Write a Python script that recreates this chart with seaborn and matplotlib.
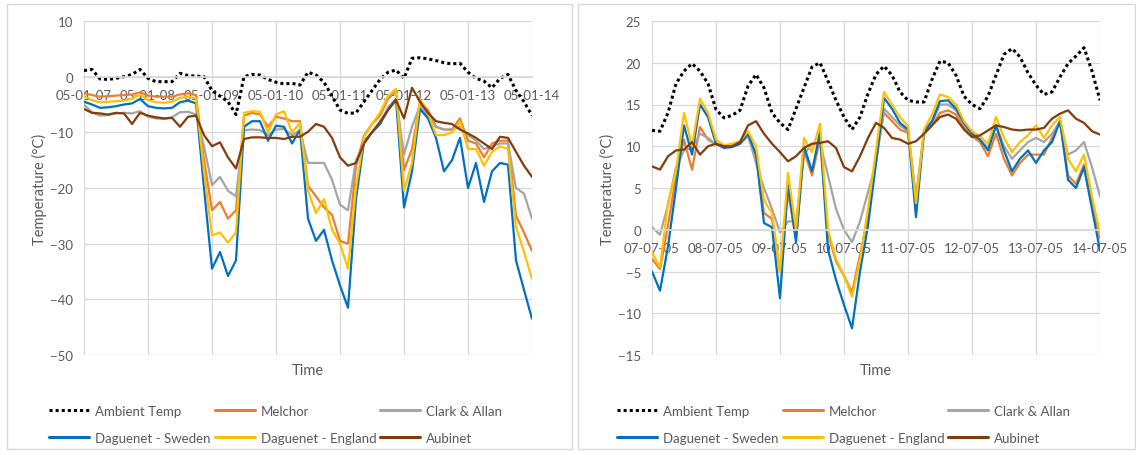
import pandas as pd
import seaborn as sns
import matplotlib.pyplot as plt
import matplotlib.dates as mdates
from matplotlib.lines import Line2D
from matplotlib.patches import Rectangle

# ---- data: temperatures every 3 hours over one week ----
jan_start, jan_end = "2005-01-07", "2005-01-14"
jul_start, jul_end = "2005-07-07", "2005-07-14"

jan_ambient = [1.1, 1.3, -0.4, -0.5, -0.3, 0.0, 0.4, 1.3, -0.3, -0.9, -0.9, -0.9, 0.6, 0.2, 0.1,
               0.0, -2.5, -3.5, -4.5, -6.8, 0.0, 0.4, 0.3, -0.5, -1.0, -1.3, -1.2, -1.5, 0.8, 0.3,
               -1.0, -3.5, -6.0, -6.6, -6.5, -4.5, -2.5, -0.5, 0.8, 1.2, -0.3, 3.3, 3.4, 3.2, 2.9,
               2.5, 2.3, 2.4, 0.8, -0.3, -0.8, -2.0, -0.3, 0.4, -2.5, -4.5, -7.0]
jan_melchor = [-3.0, -3.3, -3.6, -3.5, -3.4, -3.3, -3.2, -2.8, -3.4, -3.6, -3.6, -3.6, -3.2, -3.0,
               -3.3, -15.0, -24.0, -22.5, -25.5, -24.0, -7.0, -6.5, -6.8, -9.0, -7.2, -7.5, -8.0,
               -8.0, -19.6, -21.5, -23.5, -24.8, -29.5, -30.0, -16.0, -10.6, -8.5, -7.0, -4.0,
               -2.5, -16.8, -13.0, -4.5, -6.0, -9.0, -9.5, -9.5, -7.5, -11.5, -12.0, -14.5,
               -12.0, -11.5, -11.5, -25.0, -28.0, -31.3]
jan_clark = [-5.0, -6.4, -7.0, -6.9, -6.6, -6.5, -6.6, -6.2, -7.2, -7.5, -7.6, -7.3, -6.4, -6.3,
             -6.8, -12.5, -19.5, -18.0, -20.5, -21.5, -9.6, -9.5, -9.6, -10.5, -9.5, -9.4, -10.5,
             -9.7, -15.5, -15.5, -15.5, -18.5, -23.0, -24.0, -15.0, -12.0, -10.0, -8.5, -5.5,
             -4.0, -14.0, -9.0, -5.2, -7.0, -9.0, -9.5, -9.5, -9.0, -10.5, -11.5, -13.0, -12.5,
             -12.0, -12.0, -20.0, -21.0, -25.5]
jan_sweden = [-4.5, -5.0, -5.6, -5.5, -5.3, -5.0, -4.8, -4.0, -5.3, -5.6, -5.7, -5.6, -4.6, -4.3,
              -4.8, -20.0, -34.5, -31.5, -35.8, -33.0, -9.0, -8.0, -8.0, -11.5, -8.8, -9.0, -12.0,
              -9.5, -25.5, -29.5, -27.5, -33.0, -37.5, -41.5, -22.0, -11.7, -10.0, -8.5, -6.0,
              -4.0, -23.5, -17.0, -5.8, -7.5, -11.0, -17.0, -15.0, -11.0, -20.0, -15.5, -22.5,
              -17.0, -15.5, -15.8, -33.0, -38.3, -43.5]
jan_england = [-3.5, -4.2, -4.6, -4.5, -4.4, -4.3, -4.0, -3.2, -4.2, -4.6, -4.7, -4.5, -3.8, -3.6,
               -3.9, -17.0, -28.5, -28.0, -29.8, -28.0, -6.5, -6.2, -6.3, -10.0, -6.8, -6.2,
               -10.0, -8.3, -20.5, -24.5, -22.0, -27.5, -30.0, -34.5, -20.0, -10.8, -8.5, -6.5,
               -3.5, -2.2, -20.5, -15.5, -4.0, -6.5, -10.5, -10.5, -10.0, -8.0, -13.0, -13.0,
               -16.0, -13.5, -12.5, -13.0, -27.0, -31.5, -36.3]
jan_aubinet = [-5.8, -6.5, -6.6, -6.8, -6.5, -6.6, -8.5, -6.5, -7.0, -7.3, -7.5, -7.4, -9.0, -7.2,
               -7.0, -10.5, -12.5, -11.8, -14.5, -16.5, -11.2, -10.9, -10.9, -11.0, -11.0, -11.2,
               -10.8, -10.8, -9.9, -8.5, -9.0, -11.0, -14.5, -16.0, -15.5, -12.0, -10.0, -8.1,
               -6.0, -4.2, -7.5, -2.0, -4.5, -6.5, -8.0, -8.3, -8.5, -9.5, -10.2, -11.0, -12.0,
               -13.0, -10.8, -11.0, -13.5, -16.0, -18.0]

jul_ambient = [11.9, 11.8, 14.0, 17.5, 19.0, 19.9, 19.0, 17.5, 14.4, 13.4, 13.7, 14.3, 17.2, 18.6,
               17.0, 14.0, 12.8, 12.0, 14.5, 17.0, 19.5, 20.0, 17.8, 15.5, 13.5, 12.0, 13.5, 16.3,
               18.6, 19.6, 18.5, 16.5, 15.5, 15.3, 15.3, 18.0, 20.2, 20.0, 18.5, 16.0, 15.0, 14.5,
               16.0, 18.5, 21.0, 21.7, 20.7, 18.8, 17.3, 16.2, 16.5, 18.3, 19.9, 20.8, 21.8, 19.0,
               15.5]
jul_melchor = [-3.5, -4.7, 0.5, 6.5, 10.8, 7.2, 12.3, 10.8, 10.2, 9.9, 10.0, 10.3, 11.2, 9.0, 2.0,
               1.3, -5.0, 4.5, -1.0, 9.5, 6.5, 10.8, -0.5, -3.8, -5.5, -7.5, -3.0, 1.5, 8.5, 14.0,
               13.0, 12.0, 11.6, 3.5, 11.5, 12.5, 14.0, 14.3, 13.8, 12.3, 11.2, 10.5, 8.8, 11.5,
               8.5, 6.5, 8.0, 9.0, 9.0, 9.0, 11.0, 13.0, 6.5, 5.5, 7.8, 3.0, -1.0]
jul_clark = [0.3, -0.6, 3.0, 7.5, 9.5, 9.8, 11.5, 11.0, 10.2, 10.0, 10.1, 10.4, 11.3, 8.0, 5.0,
             2.5, -0.3, 1.0, 1.0, 9.0, 10.3, 10.5, 6.5, 2.5, 0.0, -1.5, 1.0, 4.5, 8.0, 14.5, 13.5,
             12.5, 11.8, 4.0, 11.7, 12.8, 15.0, 15.0, 14.3, 12.6, 11.4, 10.8, 9.8, 12.5, 10.0,
             8.5, 9.5, 10.5, 11.0, 10.5, 11.5, 13.0, 9.0, 9.5, 10.5, 7.5, 4.0]
jul_sweden = [-5.0, -7.3, -2.0, 5.0, 12.5, 9.0, 15.0, 13.5, 10.3, 9.8, 9.9, 10.3, 11.5, 9.0, 0.8,
              0.3, -8.2, 5.5, -1.5, 10.0, 7.0, 11.7, -2.4, -6.0, -9.0, -11.8, -5.0, 0.5, 8.0,
              15.8, 14.5, 12.8, 12.0, 1.5, 11.8, 13.0, 15.4, 15.5, 14.5, 12.8, 11.5, 10.8, 9.5,
              12.5, 9.5, 7.0, 8.5, 9.5, 8.0, 9.5, 10.5, 13.0, 6.0, 5.0, 7.5, 2.5, -2.5]
jul_england = [-2.7, -4.5, 3.2, 7.0, 14.0, 10.0, 15.7, 14.0, 10.8, 10.1, 10.3, 10.6, 11.8, 10.0,
               3.5, 2.0, -5.0, 6.8, 0.0, 11.0, 9.3, 12.7, 0.0, -3.5, -5.5, -8.0, -3.6, 2.5, 9.5,
               16.5, 15.0, 13.5, 12.4, 3.2, 12.0, 13.8, 16.2, 15.9, 15.0, 13.0, 11.8, 11.2, 10.3,
               13.5, 11.0, 9.3, 10.5, 11.3, 12.5, 11.0, 12.5, 13.5, 8.5, 7.0, 9.0, 4.0, -0.5]
jul_aubinet = [7.6, 7.2, 8.8, 9.5, 9.6, 10.5, 9.0, 10.0, 10.3, 10.0, 10.0, 10.5, 12.5, 13.0, 11.5,
               10.3, 9.3, 8.2, 8.8, 9.8, 10.3, 10.4, 10.6, 9.8, 7.5, 7.0, 8.8, 11.0, 12.8, 12.2,
               11.0, 10.8, 10.3, 10.6, 11.5, 12.5, 13.5, 13.8, 13.3, 12.0, 11.1, 11.3, 11.9, 12.5,
               12.3, 12.0, 11.9, 12.0, 12.0, 12.2, 13.3, 13.9, 14.3, 13.3, 12.8, 11.8, 11.4]

names = ["Ambient Temp", "Melchor", "Clark & Allan", "Daguenet - Sweden",
         "Daguenet - England", "Aubinet"]
colors = ["black", "#ED7D31", "#A5A5A5", "#0070C0", "#FFC000", "#843C0C"]

# ---- style ----
sns.set_theme(style="white")
plt.rcParams["font.family"] = ["Lato", "DejaVu Sans"]
TXT = "#595959"
GRID = "#D9D9D9"

W, H = 1136, 456
fig = plt.figure(figsize=(W / 100, H / 100), dpi=100)

# chart area borders
for x0, x1 in [(7, 572), (578, 1135)]:
    fig.add_artist(Rectangle((x0 / W, 1 - 450 / H), (x1 - x0) / W, 445 / H,
                             transform=fig.transFigure, fill=False, ec=GRID, lw=1))


def draw_chart(left_px, start, end, series, ylim, ystep, datefmt):
    ax = fig.add_axes([left_px / W, 1 - 356 / H, 448 / W, 334 / H])
    times = pd.date_range(start, end, freq="3h")
    for name, col, vals in zip(names, colors, series):
        dotted = name == "Ambient Temp"
        sns.lineplot(x=times, y=vals, ax=ax, color=col,
                     lw=2.2 if dotted else 1.6,
                     dashes=False, estimator=None, sort=False)
        if dotted:
            ax.lines[-1].set_linestyle((0, (1, 1)))
    ax.set_xlim(times[0], times[-1])
    ax.set_ylim(*ylim)
    ax.set_yticks(range(ylim[0], ylim[1] + 1, ystep))
    ax.xaxis.set_major_locator(mdates.DayLocator())
    ax.xaxis.set_major_formatter(mdates.DateFormatter(datefmt))
    ax.grid(True, color=GRID, lw=0.9)
    ax.set_axisbelow(True)
    for s in ["top", "right", "left"]:
        ax.spines[s].set_visible(False)
    ax.spines["bottom"].set_position(("data", 0))
    ax.spines["bottom"].set_color(GRID)
    ax.tick_params(axis="both", length=0, colors=TXT, labelsize=9.5)
    ax.tick_params(axis="x", pad=9)
    ax.tick_params(axis="y", pad=8)
    ax.set_xlabel("")
    ax.set_ylabel("")
    ax.text(-0.1, 0.5, "Temperature (°C)", transform=ax.transAxes, rotation=90,
            ha="center", va="center", color=TXT, fontsize=10.5)
    ax.text(0.5, -0.045, "Time", transform=ax.transAxes, ha="center", va="center",
            color=TXT, fontsize=10.5)

    # legend: three columns of two rows
    handles = {}
    for name, col in zip(names, colors):
        if name == "Ambient Temp":
            handles[name] = Line2D([], [], color=col, lw=2.2, ls=(0, (1, 1)))
        else:
            handles[name] = Line2D([], [], color=col, lw=2.2)
    cols = [["Ambient Temp", "Daguenet - Sweden"], ["Melchor", "Daguenet - England"],
            ["Clark & Allan", "Aubinet"]]
    for dx, entries in zip([-35, 131, 296], cols):
        fig.legend([handles[e] for e in entries], entries, loc="upper left",
                   bbox_to_anchor=((left_px + dx) / W, 1 - 406 / H), frameon=False,
                   borderpad=0, borderaxespad=0, handlelength=3.0, handletextpad=0.45,
                   labelspacing=1.1, fontsize=9.5, labelcolor=TXT)
    return ax


draw_chart(84, jan_start, jan_end,
           [jan_ambient, jan_melchor, jan_clark, jan_sweden, jan_england, jan_aubinet],
           (-50, 10), 10, "%y-%m-%d")
draw_chart(652, jul_start, jul_end,
           [jul_ambient, jul_melchor, jul_clark, jul_sweden, jul_england, jul_aubinet],
           (-15, 25), 5, "%d-%m-%y")

fig.savefig("out.png", dpi=100, facecolor="white")
